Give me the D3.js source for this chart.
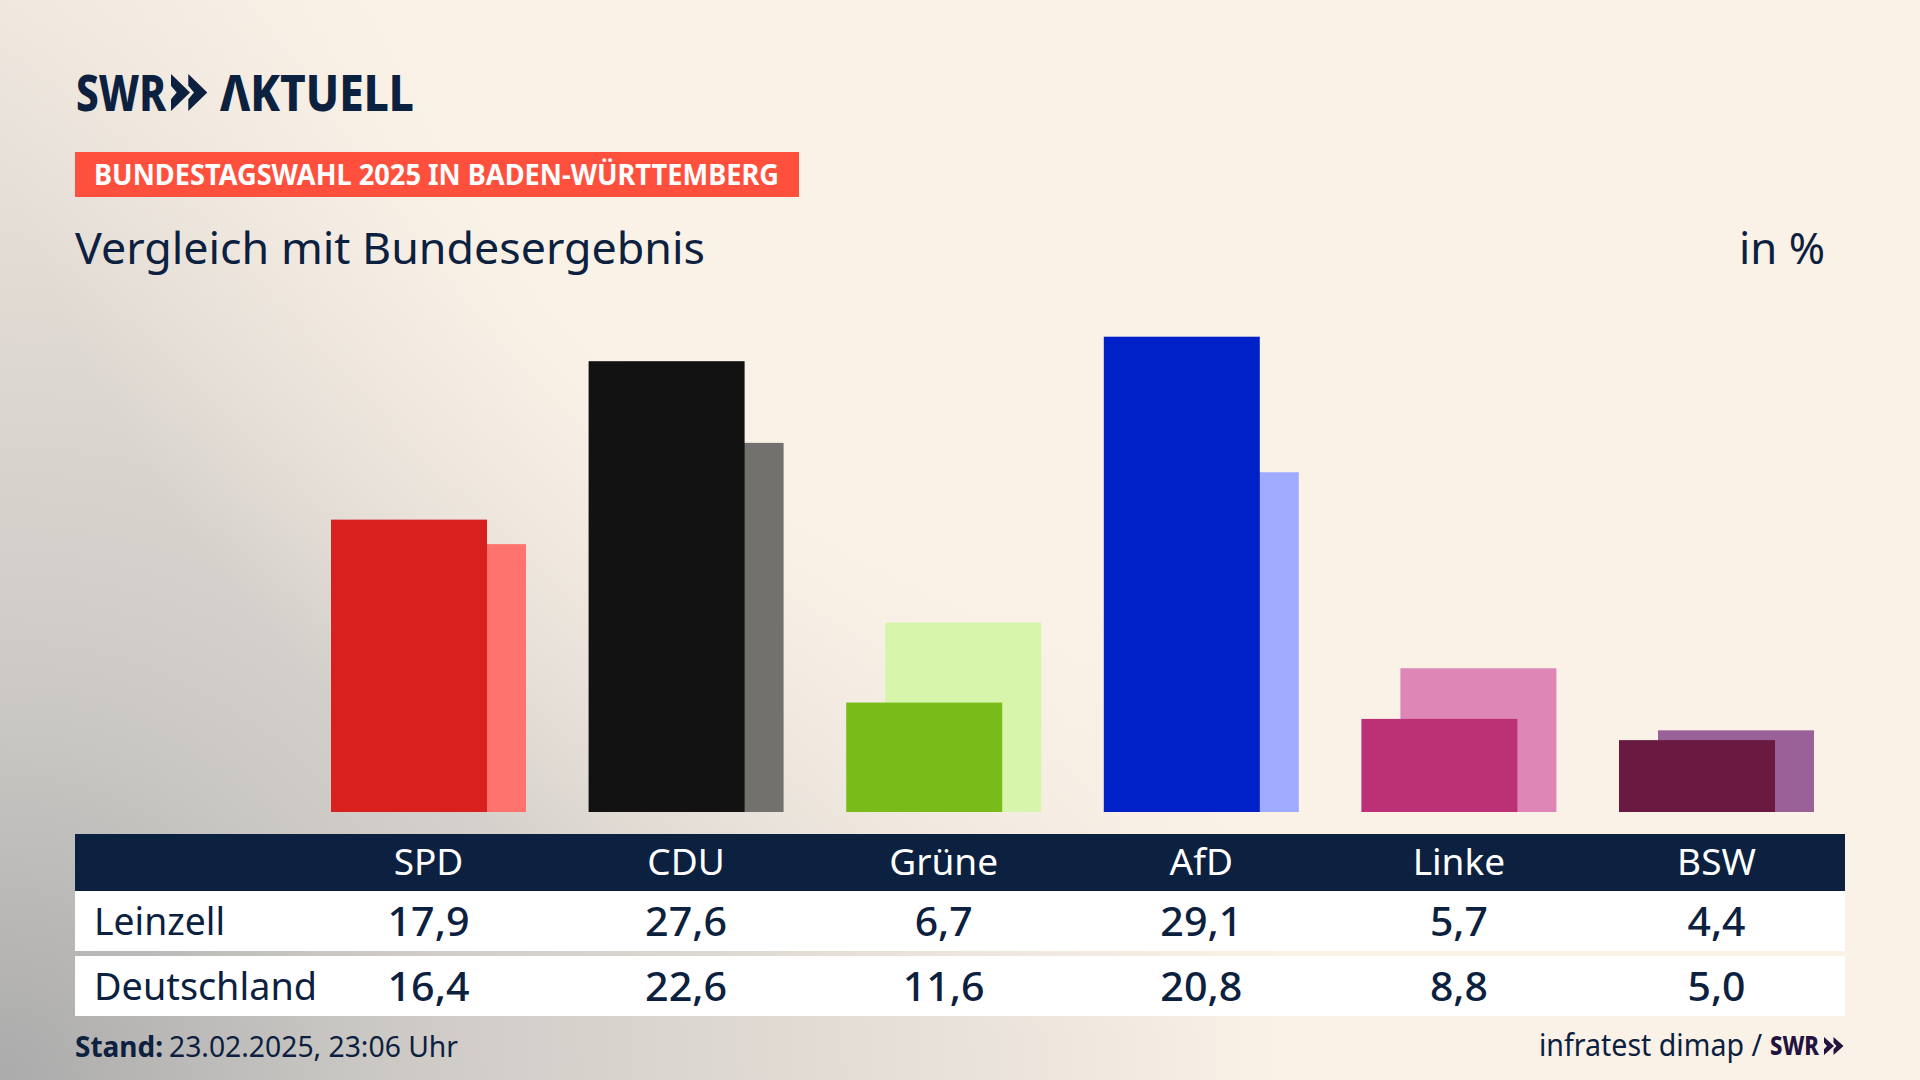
<!DOCTYPE html>
<html lang="de">
<head>
<meta charset="utf-8">
<title>Vergleich mit Bundesergebnis</title>
<script src="https://cdn.jsdelivr.net/npm/d3@7"></script>
<style>
  html, body { margin: 0; padding: 0; background: #fbf2e7; }
  svg { display: block; }
  text { font-family: "Noto Sans", sans-serif; fill: #0c2040; }
</style>
</head>
<body>
<div id="chart"></div>
<script>
const parties = ['SPD', 'CDU', 'Grüne', 'AfD', 'Linke', 'BSW'];
const leinzell = [17.9, 27.6, 6.7, 29.1, 5.7, 4.4];
const deutschland = [16.4, 22.6, 11.6, 20.8, 8.8, 5.0];
const mainColors = ['#d8201e', '#121212', '#79bc1a', '#0020c8', '#bc3075', '#6a1a40'];
const lightColors = ['#ff736f', '#73716e', '#d7f6ac', '#9eabff', '#de87b6', '#9a6098'];

const WIDTH = 1920;
const HEIGHT = 1080;
const NAVY = '#0c2040';
const CREAM = '#fbf2e7';
const BAR_WIDTH = 156;
const BAR_SHIFT = 39;
const COL_RIGHT = 1814;

const deNumber = d3.formatLocale({ decimal: ',', thousands: '.', grouping: [3], currency: ['', ' €'] }).format('.1f');

const svg = d3.select('#chart').append('svg')
  .attr('width', WIDTH)
  .attr('height', HEIGHT);

const defs = svg.append('defs');

// grey glow out of the lower left corner
const glow = defs.append('radialGradient')
  .attr('id', 'glow')
  .attr('gradientUnits', 'userSpaceOnUse')
  .attr('cx', 0).attr('cy', HEIGHT).attr('r', 1290);
[[0, '#ababab'], [0.31, '#cdcac6'], [0.62, '#e1dbd4'], [0.85, '#f0e8df'], [1, CREAM]].forEach(s => {
  glow.append('stop').attr('offset', s[0]).attr('stop-color', s[1]);
});

// cream from the top right flattens the glow's curve on the diagonal
const wash = defs.append('radialGradient')
  .attr('id', 'wash')
  .attr('gradientUnits', 'userSpaceOnUse')
  .attr('cx', 1200).attr('cy', -200).attr('r', 1250);
[[0.64, 1], [1, 0]].forEach(s => {
  wash.append('stop').attr('offset', s[0]).attr('stop-color', CREAM).attr('stop-opacity', s[1]);
});

svg.append('rect').attr('width', WIDTH).attr('height', HEIGHT).attr('fill', 'url(#glow)');
svg.append('rect').attr('width', WIDTH).attr('height', HEIGHT).attr('fill', 'url(#wash)');

// width is forced with textLength, the house font is narrower than anything installed
function label(str, x, y, size, opts = {}) {
  const t = svg.append('text')
    .attr('x', x).attr('y', y)
    .attr('font-size', size)
    .attr('font-weight', opts.weight || 400)
    .attr('text-anchor', opts.anchor || 'start')
    .text(str);
  if (opts.fill) t.style('fill', opts.fill);
  if (opts.width) t.attr('textLength', opts.width).attr('lengthAdjust', 'spacingAndGlyphs');
  return t;
}

function chevrons(x, y, w, h, step, fill) {
  const shape = d3.line();
  [0, step].forEach(dx => {
    svg.append('path')
      .attr('transform', `translate(${x + dx},${y})`)
      .attr('fill', fill)
      .attr('d', shape([[0, 0], [w, h / 2], [0, h], [0, h * 0.68], [w * 0.3, h / 2], [0, h * 0.32]]) + 'Z');
  });
}

// logo
label('SWR', 76, 111, 50, { weight: 800, width: 90 });
chevrons(171, 74, 19, 37, 17.3, NAVY);
label('ΛKTUELL', 220, 111, 50, { weight: 800, width: 194 });

// heading
svg.append('rect').attr('x', 75).attr('y', 152).attr('width', 724).attr('height', 45).attr('fill', '#ff4f3d');
label('BUNDESTAGSWAHL 2025 IN BADEN-WÜRTTEMBERG', 94, 185, 28, { weight: 700, width: 685, fill: '#ffffff' });
label('Vergleich mit Bundesergebnis', 75, 264, 44, { width: 630 });
label('in %', 1825, 264, 44, { anchor: 'end', width: 86 });

// bars
const x = d3.scaleBand()
  .domain(parties)
  .range([331, COL_RIGHT])
  .paddingInner(0.243);
const y = d3.scaleLinear().domain([0, 30]).range([812, 322]);

svg.append('g').selectAll('rect')
  .data(deutschland)
  .join('rect')
  .attr('x', (d, i) => x(parties[i]) + BAR_SHIFT)
  .attr('y', d => y(d))
  .attr('width', BAR_WIDTH)
  .attr('height', d => y(0) - y(d))
  .attr('fill', (d, i) => lightColors[i]);

svg.append('g').selectAll('rect')
  .data(leinzell)
  .join('rect')
  .attr('x', (d, i) => x(parties[i]))
  .attr('y', d => y(d))
  .attr('width', BAR_WIDTH)
  .attr('height', d => y(0) - y(d))
  .attr('fill', (d, i) => mainColors[i]);

// table under the bars
const colX = p => x(p) + x.bandwidth() / 2;

svg.append('rect').attr('x', 75).attr('y', 834).attr('width', 1770).attr('height', 57).attr('fill', NAVY);
svg.append('rect').attr('x', 75).attr('y', 891).attr('width', 1770).attr('height', 60).attr('fill', '#ffffff');
svg.append('rect').attr('x', 75).attr('y', 956).attr('width', 1770).attr('height', 60).attr('fill', '#ffffff');

parties.forEach(p => {
  label(p, colX(p), 875, 37, { anchor: 'middle', fill: '#ffffff' });
});

[['Leinzell', leinzell, 935, 131], ['Deutschland', deutschland, 1000, 223]].forEach(row => {
  label(row[0], 94, row[2], 39, { width: row[3] });
  row[1].forEach((v, i) => {
    const s = deNumber(v);
    label(s, colX(parties[i]), row[2] + 1, 40, { anchor: 'middle', weight: 500, width: s.length > 3 ? 82 : 58 });
  });
});

// footer
label('Stand:', 75, 1057, 29, { weight: 700, width: 88 });
label('23.02.2025, 23:06 Uhr', 169, 1057, 29, { width: 289 });
label('infratest dimap /', 1539, 1056, 30, { width: 223 });
label('SWR', 1770, 1055, 26, { weight: 800, width: 49, fill: '#22143f' });
chevrons(1824, 1037, 10, 18, 9.5, '#22143f');
</script>
</body>
</html>
